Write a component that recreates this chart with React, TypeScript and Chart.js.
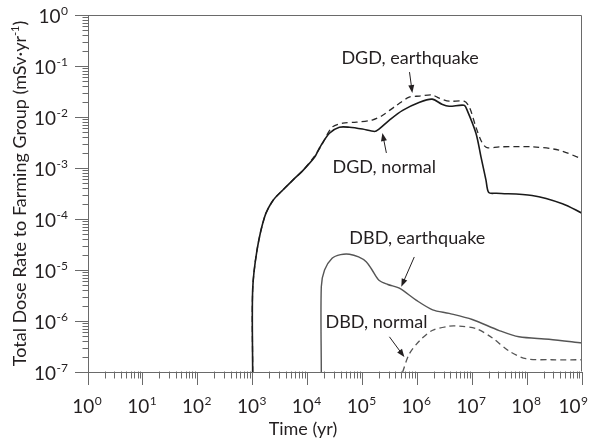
import React, { useEffect, useRef } from 'react';
import { Chart, registerables } from 'chart.js';

Chart.register(...registerables);

// ---------- data ----------
const xExponents = [0, 1, 2, 3, 4, 5, 6, 7, 8, 9];
const yExponents = [-7, -6, -5, -4, -3, -2, -1, 0];

const dgdNormalTime = [1.0e3, 1.0e3, 1.2e3, 1.65e3, 2.34e3, 3.55e3, 5.4e3, 8.2e3, 1.34e4, 1.66e4, 2.5e4, 3.8e4, 5.8e4, 1.0e5, 1.66e5, 2.0e5, 3.1e5, 5.4e5, 1.1e6, 1.86e6, 2.8e6, 3.8e6, 7.1e6, 8.1e6, 1.17e7, 1.45e7, 1.78e7, 2.0e7, 2.75e7, 1.23e8, 4.4e8, 1.0e9];
const dgdNormalDose = [1e-7, 4.1e-6, 2.45e-5, 1.1e-4, 2.3e-4, 3.7e-4, 5.8e-4, 8.9e-4, 1.62e-3, 2.5e-3, 4.8e-3, 6.3e-3, 6.3e-3, 5.8e-3, 5.2e-3, 5.8e-3, 8.7e-3, 1.35e-2, 1.95e-2, 2.24e-2, 1.78e-2, 1.62e-2, 1.7e-2, 1.35e-2, 4.8e-3, 1.62e-3, 5.8e-4, 3.3e-4, 3.2e-4, 2.9e-4, 2.0e-4, 1.3e-4];

const dgdQuakeTime = [1.0e3, 1.0e3, 1.2e3, 1.65e3, 2.34e3, 3.55e3, 5.4e3, 8.2e3, 1.34e4, 1.78e4, 2.8e4, 4.4e4, 7.8e4, 1.5e5, 2.3e5, 4.2e5, 7.1e5, 1.1e6, 1.86e6, 2.5e6, 3.8e6, 7.1e6, 8.9e6, 1.17e7, 1.5e7, 1.86e7, 3.1e7, 1.23e8, 3.8e8, 1.0e9];
const dgdQuakeDose = [1e-7, 4.1e-6, 2.45e-5, 1.1e-4, 2.3e-4, 3.7e-4, 5.8e-4, 8.9e-4, 1.7e-3, 2.75e-3, 6.3e-3, 7.6e-3, 7.9e-3, 8.7e-3, 1.07e-2, 1.7e-2, 2.45e-2, 2.57e-2, 2.7e-2, 2.34e-2, 2.04e-2, 2.04e-2, 1.55e-2, 6.3e-3, 3.2e-3, 2.5e-3, 2.6e-3, 2.6e-3, 2.24e-3, 1.5e-3];

const dbdQuakeTime = [1.78e4, 1.78e4, 2.04e4, 2.8e4, 4.0e4, 5.8e4, 8.5e4, 1.17e5, 1.5e5, 2.0e5, 2.9e5, 4.7e5, 9.5e5, 1.9e6, 3.8e6, 1.0e7, 3.1e7, 7.1e7, 2.5e8, 1.0e9];
const dbdQuakeDose = [1e-7, 4.7e-6, 1.0e-5, 1.7e-5, 2.0e-5, 2.04e-5, 1.8e-5, 1.45e-5, 1.0e-5, 6.3e-6, 5.2e-6, 4.4e-6, 2.57e-6, 1.66e-6, 1.41e-6, 1.07e-6, 6.5e-7, 4.9e-7, 4.4e-7, 3.7e-7];

const dbdNormalTime = [5.4e5, 7.1e5, 1.1e6, 1.86e6, 3.8e6, 5.8e6, 1.17e7, 2.3e7, 4.7e7, 9.5e7, 2.8e8, 1.0e9];
const dbdNormalDose = [1e-7, 2.24e-7, 4.1e-7, 6.5e-7, 7.9e-7, 7.9e-7, 7.1e-7, 4.7e-7, 2.57e-7, 1.82e-7, 1.74e-7, 1.74e-7];

// annotation labels, anchored in data coordinates (time, dose)
const labelTexts = ['DGD, earthquake', 'DGD, normal', 'DBD, earthquake', 'DBD, normal'];
const labelAt = [[7.4e5, 1.43e-1], [2.5e5, 1.05e-3], [1.0e6, 4.2e-5], [1.8e5, 9.5e-7]];
const arrowTail = [[7.2e5, 7.6e-2], [2.73e5, 1.97e-3], [8.8e5, 1.8e-5], [3.1e5, 4.9e-7]];
const arrowTip = [[8.1e5, 2.96e-2], [2.31e5, 4.85e-3], [5.1e5, 4.7e-6], [5.8e5, 1.96e-7]];

const xTitle = 'Time (yr)';
const yTitleMain = 'Total Dose Rate to Farming Group (mSv·yr';
const yTitleSup = '-1';
const yTitleEnd = ')';

// ---------- styles ----------
const FONT = 'Lato, "Open Sans", sans-serif';
const AXIS = '#6a6a6a';
const TEXT = '#231f20';

const pts = (t: number[], v: number[]) => t.map((x, i) => ({ x, y: v[i] }));

const decorPlugin = {
  id: 'decor',
  afterDraw(chart: any) {
    const { ctx, chartArea: a, scales, width: cw } = chart;
    const xs = scales.x;
    const ys = scales.y;
    const L = Math.round(a.left) + 0.5;
    const R = Math.round(a.right) - 0.5;
    const T = Math.round(a.top) + 0.5;
    const B = Math.round(a.bottom) - 0.5;
    ctx.save();
    // frame (top / right)
    ctx.strokeStyle = AXIS;
    ctx.lineWidth = 1;
    ctx.beginPath();
    ctx.moveTo(L, T);
    ctx.lineTo(R, T);
    ctx.lineTo(R, B);
    ctx.stroke();
    // minor ticks
    ctx.beginPath();
    for (const e of xExponents.slice(0, -1)) {
      for (let k = 2; k <= 9; k++) {
        const px = Math.round(xs.getPixelForValue(k * Math.pow(10, e))) + 0.5;
        ctx.moveTo(px, B);
        ctx.lineTo(px, B + 7);
      }
    }
    for (const e of yExponents.slice(0, -1)) {
      for (let k = 2; k <= 9; k++) {
        const py = Math.round(ys.getPixelForValue(k * Math.pow(10, e))) + 0.5;
        ctx.moveTo(L - 6, py);
        ctx.lineTo(L, py);
      }
    }
    ctx.stroke();

    // tick labels
    ctx.fillStyle = TEXT;
    ctx.textBaseline = 'alphabetic';
    ctx.textAlign = 'left';
    for (const e of xExponents) {
      const px = xs.getPixelForValue(Math.pow(10, e));
      ctx.font = `19px ${FONT}`;
      const w = ctx.measureText('10').width;
      ctx.font = `12px ${FONT}`;
      const we = ctx.measureText(String(e)).width;
      const total = w + 0.5 + we;
      const center = Math.min(px - 1, cw - 1 - total / 2);
      const start = center - total / 2;
      ctx.font = `19px ${FONT}`;
      ctx.fillText('10', start, a.bottom + 41);
      ctx.font = `12px ${FONT}`;
      ctx.fillText(String(e), start + w + 0.5, a.bottom + 33);
    }
    for (const e of yExponents) {
      const py = ys.getPixelForValue(Math.pow(10, e));
      const right = a.left - 20;
      ctx.font = `12px ${FONT}`;
      const es = String(e);
      const we = ctx.measureText(es).width;
      ctx.textAlign = 'left';
      ctx.fillText(es, right - we, py);
      ctx.font = `19px ${FONT}`;
      ctx.textAlign = 'right';
      ctx.fillText('10', right - we - 0.5, py + 7.5);
    }

    // axis titles
    ctx.font = `18px ${FONT}`;
    ctx.textAlign = 'center';
    ctx.fillText(xTitle, 303, a.bottom + 63);

    ctx.save();
    ctx.translate(26, (a.top + a.bottom) / 2);
    ctx.rotate(-Math.PI / 2);
    ctx.font = `18px ${FONT}`;
    const w1 = ctx.measureText(yTitleMain).width;
    const w3 = ctx.measureText(yTitleEnd).width;
    ctx.font = `11px ${FONT}`;
    const w2 = ctx.measureText(yTitleSup).width;
    let sx = -(w1 + w2 + w3) / 2;
    ctx.textAlign = 'left';
    ctx.font = `18px ${FONT}`;
    ctx.fillText(yTitleMain, sx, 0);
    sx += w1;
    ctx.font = `11px ${FONT}`;
    ctx.fillText(yTitleSup, sx, -7);
    sx += w2;
    ctx.font = `18px ${FONT}`;
    ctx.fillText(yTitleEnd, sx, 0);
    ctx.restore();

    // annotations
    ctx.font = `18px ${FONT}`;
    ctx.textAlign = 'center';
    ctx.textBaseline = 'middle';
    labelTexts.forEach((txt, i) => {
      const tx = xs.getPixelForValue(labelAt[i][0]);
      const ty = ys.getPixelForValue(labelAt[i][1]);
      ctx.fillText(txt, tx, ty);
      const x0 = xs.getPixelForValue(arrowTail[i][0]);
      const y0 = ys.getPixelForValue(arrowTail[i][1]);
      const x1 = xs.getPixelForValue(arrowTip[i][0]);
      const y1 = ys.getPixelForValue(arrowTip[i][1]);
      const ang = Math.atan2(y1 - y0, x1 - x0);
      const hl = 8;
      const hw = 3;
      ctx.strokeStyle = TEXT;
      ctx.lineWidth = 1;
      ctx.beginPath();
      ctx.moveTo(x0, y0);
      ctx.lineTo(x1 - Math.cos(ang) * hl * 0.8, y1 - Math.sin(ang) * hl * 0.8);
      ctx.stroke();
      ctx.beginPath();
      ctx.moveTo(x1, y1);
      ctx.lineTo(x1 - Math.cos(ang) * hl - Math.sin(ang) * hw, y1 - Math.sin(ang) * hl + Math.cos(ang) * hw);
      ctx.lineTo(x1 - Math.cos(ang) * hl + Math.sin(ang) * hw, y1 - Math.sin(ang) * hl - Math.cos(ang) * hw);
      ctx.closePath();
      ctx.fillStyle = TEXT;
      ctx.fill();
    });
    ctx.restore();
  },
};

export default function App() {
  const ref = useRef<HTMLCanvasElement | null>(null);
  useEffect(() => {
    if (!ref.current) return;
    const majorTicks = (exps: number[]) => (scale: any) => {
      scale.ticks = exps.map((e) => ({ value: Math.pow(10, e), major: true }));
    };
    const chart = new Chart(ref.current, {
      type: 'line',
      data: {
        datasets: [
          {
            label: 'DGD, normal',
            data: pts(dgdNormalTime, dgdNormalDose),
            borderColor: '#1a1a1a',
            borderWidth: 1.6,
            pointRadius: 0,
            tension: 0.3,
          },
          {
            label: 'DGD, earthquake',
            data: pts(dgdQuakeTime, dgdQuakeDose),
            borderColor: '#2a2a2a',
            borderWidth: 1.3,
            borderDash: [6, 4],
            pointRadius: 0,
            tension: 0.3,
          },
          {
            label: 'DBD, earthquake',
            data: pts(dbdQuakeTime, dbdQuakeDose),
            borderColor: '#555555',
            borderWidth: 1.4,
            pointRadius: 0,
            tension: 0.3,
          },
          {
            label: 'DBD, normal',
            data: pts(dbdNormalTime, dbdNormalDose),
            borderColor: '#555555',
            borderWidth: 1.3,
            borderDash: [6, 4],
            pointRadius: 0,
            tension: 0.3,
          },
        ],
      },
      options: {
        responsive: false,
        animation: false,
        devicePixelRatio: 1,
        layout: { padding: { left: 75, right: 7, top: 15, bottom: 59 } },
        plugins: { legend: { display: false }, tooltip: { enabled: false } },
        scales: {
          x: {
            type: 'logarithmic',
            min: 1,
            max: 1e9,
            afterBuildTicks: majorTicks(xExponents),
            ticks: { display: false },
            grid: { display: true, drawOnChartArea: false, drawTicks: true, tickLength: 13, color: AXIS, lineWidth: 1 },
            border: { display: true, color: AXIS, width: 1 },
          },
          y: {
            type: 'logarithmic',
            min: 1e-7,
            max: 1,
            afterBuildTicks: majorTicks(yExponents),
            ticks: { display: false },
            grid: { display: true, drawOnChartArea: false, drawTicks: true, tickLength: 13, color: AXIS, lineWidth: 1 },
            border: { display: true, color: AXIS, width: 1 },
          },
        },
      },
      plugins: [decorPlugin],
    });
    return () => chart.destroy();
  }, []);
  return (
    <div style={{ position: 'fixed', left: 0, top: 0, width: 589, height: 444, background: '#fff' }}>
      <canvas ref={ref} width={589} height={444} style={{ display: 'block' }} />
    </div>
  );
}
